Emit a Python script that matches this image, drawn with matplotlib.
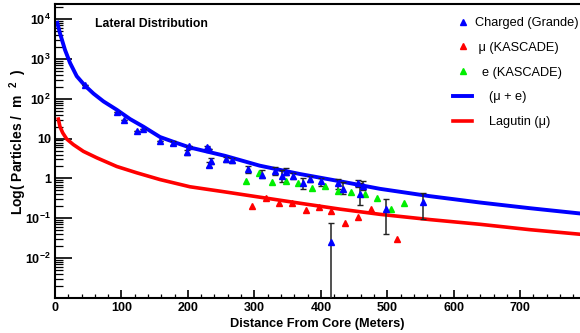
import numpy as np
import matplotlib
matplotlib.use("Agg")
import matplotlib.pyplot as plt
from matplotlib.ticker import FixedLocator, LogLocator, MultipleLocator, NullFormatter

plt.rcParams["font.family"] = ["Liberation Sans", "DejaVu Sans"]
plt.rcParams["mathtext.fontset"] = "custom"
plt.rcParams["mathtext.bf"] = "Liberation Sans:bold"
plt.rcParams["mathtext.rm"] = "Liberation Sans:bold"

# (mu + e) curve
sum_x = [3.5, 7.5, 15, 22.6, 32.7, 45, 58, 73, 93, 113, 133, 158, 183, 203, 256, 308, 368, 429,
         489, 564, 639, 714, 789]
sum_y = [8100, 4400, 1700, 800, 370, 215, 135, 86, 53, 31, 20, 11, 7.8, 6.0, 3.7, 2.1, 1.3, 0.85,
         0.55, 0.36, 0.25, 0.18, 0.133]

# Lagutin (mu) curve
lag_x = [5, 7.5, 11.6, 17.6, 27.6, 42.7, 63, 93, 123, 158, 203, 256, 308, 368, 429, 489, 564,
         639, 714, 789]
lag_y = [31, 20, 14, 9.8, 7.1, 4.8, 3.3, 2.0, 1.39, 0.94, 0.62, 0.46, 0.34, 0.24, 0.17, 0.126,
         0.093, 0.071, 0.052, 0.04]

# Charged (Grande): value, lower and upper end of the error bar
grande_x = [45, 93, 104, 124, 132, 158, 178, 199, 202, 228, 232, 235, 232, 258, 266, 291, 311, 331,
            341, 348, 358, 373, 383, 401, 416, 426, 434, 456, 459, 464, 498, 553]
grande_y = [224, 48, 30, 16, 17, 8.6, 7.8, 4.6, 6.4, 6.1, 5.6, 2.7, 2.2, 3.0, 2.9, 1.7, 1.25, 1.5,
            1.15, 1.45, 1.15, 0.75, 0.95, 0.85, 0.025, 0.75, 0.55, 0.75, 0.40, 0.65, 0.17, 0.26]
grande_lo = [224, 48, 30, 16, 17, 8.6, 7.0, 4.0, 6.4, 5.5, 5.6, 2.3, 1.9, 2.6, 2.5, 1.4, 1.0, 1.2,
             0.8, 1.2, 0.95, 0.55, 0.8, 0.65, 0.0001, 0.55, 0.4, 0.6, 0.22, 0.5, 0.04, 0.094]
grande_hi = [224, 48, 30, 16, 17, 8.6, 8.6, 5.2, 6.4, 6.6, 5.6, 3.2, 2.6, 3.5, 3.3, 2.0, 1.6, 1.9,
             1.6, 1.8, 1.4, 1.05, 1.15, 1.05, 0.078, 0.95, 0.8, 0.9, 0.78, 0.85, 0.31, 0.44]

# mu (KASCADE)
mu_x = [297, 317, 337, 357, 377, 397, 416, 436, 456, 476, 515]
mu_y = [0.20, 0.33, 0.24, 0.24, 0.16, 0.19, 0.15, 0.075, 0.11, 0.17, 0.03]

# e (KASCADE)
e_x = [287, 307, 327, 347, 366, 386, 406, 426, 446, 466, 485, 505, 525]
e_y = [0.86, 1.4, 0.83, 0.86, 0.78, 0.59, 0.65, 0.48, 0.47, 0.40, 0.33, 0.17, 0.24]

y_ticks = [1e-2, 1e-1, 1, 10, 1e2, 1e3, 1e4]
y_tick_labels = [r"$\mathbf{10^{-2}}$", r"$\mathbf{10^{-1}}$", "1", "10",
                 r"$\mathbf{10^{2}}$", r"$\mathbf{10^{3}}$", r"$\mathbf{10^{4}}$"]


def main():
    fig = plt.figure(figsize=(5.8, 3.33), dpi=100)
    ax = fig.add_axes([55 / 580, 35 / 333, 525 / 580, 294 / 333])

    ax.plot(sum_x, sum_y, color="#0000ff", lw=2.8, label="    (\u03bc + e)", zorder=2)
    ax.plot(lag_x, lag_y, color="#ff0000", lw=2.6, label="    Lagutin (\u03bc)", zorder=2)

    gy = np.array(grande_y)
    yerr = [gy - np.array(grande_lo), np.array(grande_hi) - gy]
    ax.errorbar(grande_x, grande_y, yerr=yerr, fmt="none", ecolor="#222222",
                elinewidth=1.1, capsize=2.5, capthick=1, zorder=3)
    ax.plot(grande_x, grande_y, "^", color="#0000ff", ms=5, ls="none",
            label="Charged (Grande)", zorder=4)
    ax.plot(mu_x, mu_y, "^", color="#ff0000", ms=5, ls="none",
            label=" \u03bc (KASCADE)", zorder=4)
    ax.plot(e_x, e_y, "^", color="#00ee00", ms=5, ls="none",
            label="  e (KASCADE)", zorder=3)

    ax.set_yscale("log")
    ax.set_xlim(0, 790)
    ax.set_ylim(1e-3, 2.4e4)

    ax.yaxis.set_major_locator(FixedLocator(y_ticks))
    ax.set_yticklabels(y_tick_labels)
    ax.yaxis.set_minor_locator(LogLocator(base=10, subs=np.arange(2, 10), numticks=20))
    ax.yaxis.set_minor_formatter(NullFormatter())
    ax.xaxis.set_major_locator(MultipleLocator(100))
    ax.xaxis.set_minor_locator(MultipleLocator(20))

    ax.tick_params(axis="y", which="major", direction="in", length=12, width=1.2, pad=3)
    ax.tick_params(axis="y", which="minor", direction="in", length=6, width=0.9)
    ax.tick_params(axis="x", which="major", direction="in", length=6, width=1.2, pad=3)
    ax.tick_params(axis="x", which="minor", direction="in", length=3, width=0.9)
    for lab in ax.get_xticklabels() + ax.get_yticklabels():
        lab.set_fontweight("bold")
        lab.set_fontsize(9)

    for side in ["left", "bottom", "top"]:
        ax.spines[side].set_linewidth(1.5)
    ax.spines["right"].set_visible(False)

    ax.text(0.077, 0.932, "Lateral Distribution", transform=ax.transAxes,
            fontsize=8.8, fontweight="bold", va="center")
    ax.set_xlabel("Distance From Core (Meters)", fontsize=9.2, fontweight="bold")
    ax.xaxis.set_label_coords(0.5, -(318 - 298) / 294)
    ax.set_ylabel("Log( Particles /  m  $^{2}$  )", fontsize=10, fontweight="bold", va="center")
    ax.yaxis.set_label_coords((18 - 55) / 525, (298 - 142) / 294)

    handles, labels = ax.get_legend_handles_labels()
    names = ["Charged (Grande)", " \u03bc (KASCADE)", "  e (KASCADE)",
             "    (\u03bc + e)", "    Lagutin (\u03bc)"]
    order = [labels.index(n) for n in names]
    ax.legend([handles[i] for i in order], [labels[i] for i in order],
              loc="upper left", bbox_to_anchor=((453 - 55) / 525, (298 - 17) / 294),
              frameon=False, fontsize=9.2, markerscale=0.8, handlelength=1.5,
              handletextpad=0.2, labelspacing=1.0, borderpad=0, borderaxespad=0)

    fig.savefig("out.png", dpi=100)
    plt.close(fig)


if __name__ == "__main__":
    main()
